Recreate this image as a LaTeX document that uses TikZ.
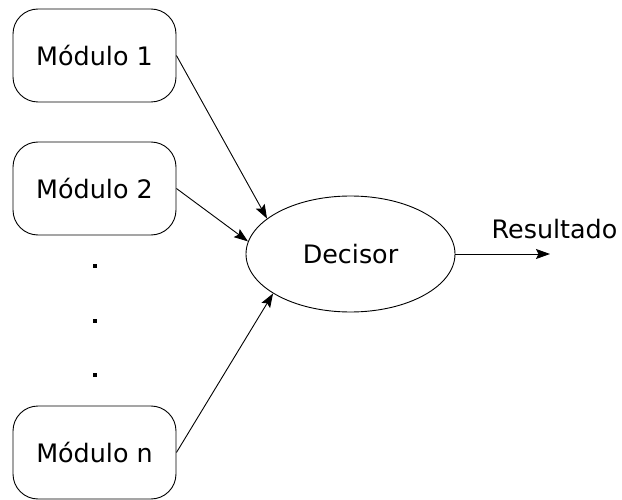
\documentclass[tikz,border=0pt]{standalone}
\usepackage{fontspec}
\setmainfont{DejaVu Sans}
\usetikzlibrary{shapes.geometric,arrows.meta}
\begin{document}
\begin{tikzpicture}[x=1pt,y=-1pt,
  modbox/.style={draw, line width=0.9pt, rounded corners=25pt, minimum width=163pt, minimum height=93pt, inner sep=0pt, font=\fontsize{25.4}{30}\selectfont},
  decbox/.style={draw, ellipse, line width=0.9pt, minimum width=209pt, minimum height=116pt, inner sep=0pt, font=\fontsize{25.4}{30}\selectfont},
  dotmark/.style={fill=black, minimum size=4.5pt, inner sep=0pt},
  conn/.style={line width=0.9pt, -{Stealth[length=14pt,width=10pt,inset=2.5pt]}}]
  \useasboundingbox (0,0) rectangle (622,500);
  \node[modbox] (m1) at (94.5,55.5) {Módulo 1};
  \node[modbox] (m2) at (94.5,188.5) {Módulo 2};
  \node[modbox] (mn) at (94.5,452.5) {Módulo n};
  \node[dotmark] (d1) at (95,266) {};
  \node[dotmark] (d2) at (95,321) {};
  \node[dotmark] (d3) at (95,375) {};
  \node[decbox] (dec) at (350.5,254) {Decisor};
  \coordinate (out) at (550,254);
  \node[font=\fontsize{25.4}{30}\selectfont, anchor=base] (res) at (554.5,239) {Resultado};
  \draw[conn] (m1.east) -- (dec.157);
  \draw[conn] (m2.east) -- (dec.173);
  \draw[conn] (mn.east) -- (dec.207);
  \draw[conn] (dec.east) -- (out);
\end{tikzpicture}
\end{document}
